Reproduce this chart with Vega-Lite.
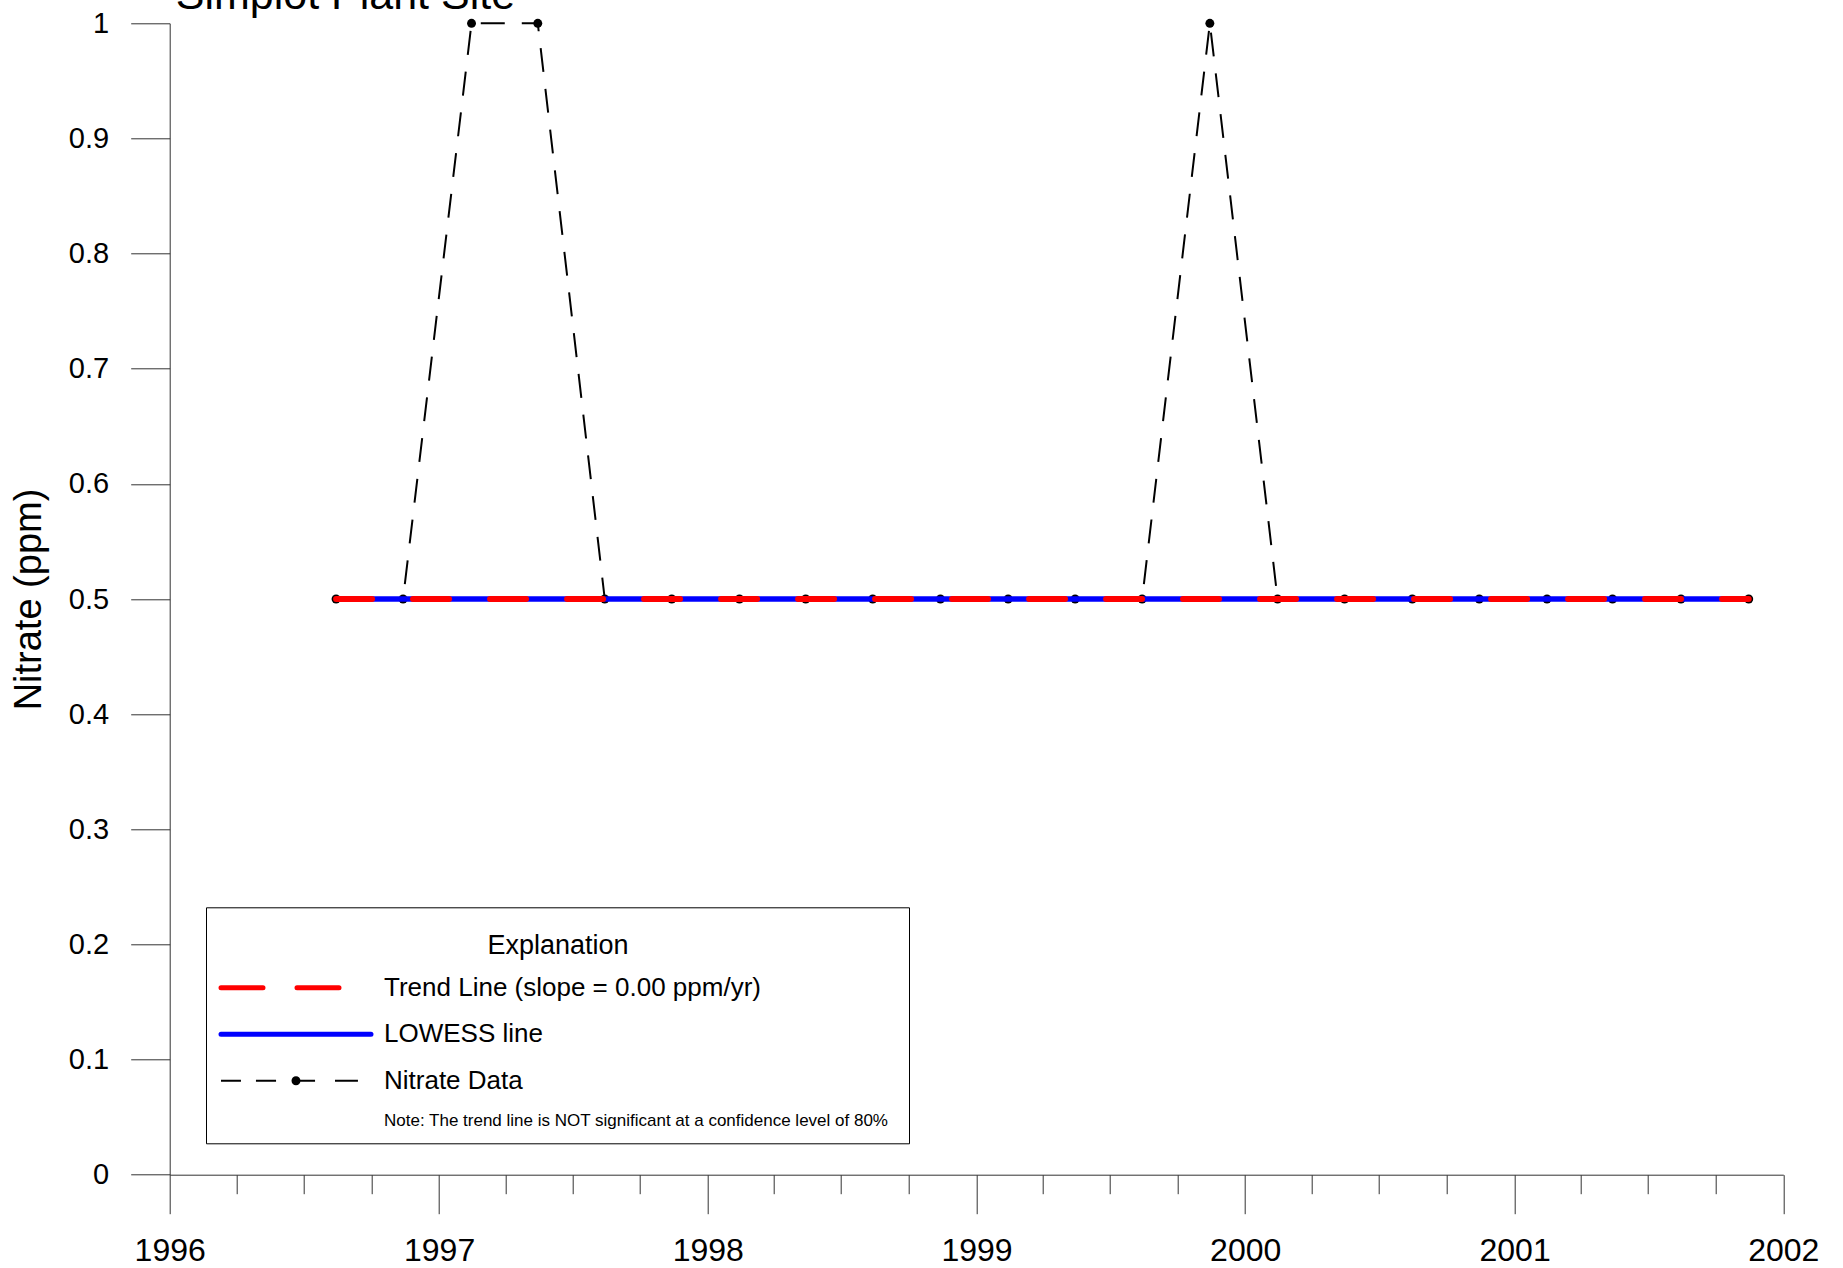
{
  "$schema": "https://vega.github.io/schema/vega-lite/v6.json",
  "autosize": {"type": "none"},
  "padding": {"left": 169.7, "top": 23.3, "right": 59.7, "bottom": 93.3},
  "width": 1613.6,
  "height": 1151.4,
  "background": "white",
  "title": {
    "text": "Simplot Plant Site",
    "anchor": "start",
    "frame": "group",
    "font": "Liberation Sans",
    "fontSize": 43,
    "fontWeight": "normal",
    "color": "black",
    "dx": 6,
    "offset": -9
  },
  "config": {
    "view": {"stroke": null},
    "axis": {"grid": false, "domainColor": "#333333", "tickColor": "#333333", "domainWidth": 1, "tickWidth": 1, "labelColor": "black", "titleColor": "black"}
  },
  "data": {
    "values": [
      {"date": "1996-08-14", "nitrate": 0.5, "trend": 0.5, "lowess": 0.5},
      {"date": "1996-11-13", "nitrate": 0.5, "trend": 0.5, "lowess": 0.5},
      {"date": "1997-02-14", "nitrate": 1.0, "trend": 0.5, "lowess": 0.5},
      {"date": "1997-05-15", "nitrate": 1.0, "trend": 0.5, "lowess": 0.5},
      {"date": "1997-08-14", "nitrate": 0.5, "trend": 0.5, "lowess": 0.5},
      {"date": "1997-11-13", "nitrate": 0.5, "trend": 0.5, "lowess": 0.5},
      {"date": "1998-02-13", "nitrate": 0.5, "trend": 0.5, "lowess": 0.5},
      {"date": "1998-05-14", "nitrate": 0.5, "trend": 0.5, "lowess": 0.5},
      {"date": "1998-08-13", "nitrate": 0.5, "trend": 0.5, "lowess": 0.5},
      {"date": "1998-11-13", "nitrate": 0.5, "trend": 0.5, "lowess": 0.5},
      {"date": "1999-02-13", "nitrate": 0.5, "trend": 0.5, "lowess": 0.5},
      {"date": "1999-05-15", "nitrate": 0.5, "trend": 0.5, "lowess": 0.5},
      {"date": "1999-08-14", "nitrate": 0.5, "trend": 0.5, "lowess": 0.5},
      {"date": "1999-11-14", "nitrate": 1.0, "trend": 0.5, "lowess": 0.5},
      {"date": "2000-02-14", "nitrate": 0.5, "trend": 0.5, "lowess": 0.5},
      {"date": "2000-05-15", "nitrate": 0.5, "trend": 0.5, "lowess": 0.5},
      {"date": "2000-08-15", "nitrate": 0.5, "trend": 0.5, "lowess": 0.5},
      {"date": "2000-11-14", "nitrate": 0.5, "trend": 0.5, "lowess": 0.5},
      {"date": "2001-02-14", "nitrate": 0.5, "trend": 0.5, "lowess": 0.5},
      {"date": "2001-05-14", "nitrate": 0.5, "trend": 0.5, "lowess": 0.5},
      {"date": "2001-08-15", "nitrate": 0.5, "trend": 0.5, "lowess": 0.5},
      {"date": "2001-11-15", "nitrate": 0.5, "trend": 0.5, "lowess": 0.5}
    ]
  },
  "encoding": {
    "x": {
      "field": "date",
      "type": "temporal",
      "scale": {"type": "utc", "domain": [{"year": 1996, "utc": true}, {"year": 2002, "utc": true}]},
      "axis": {
        "title": null,
        "tickCount": {"interval": "month", "step": 3},
        "tickSize": {"condition": {"test": "utcmonth(datum.value) === 0", "value": 39}, "value": 19},
        "labelExpr": "utcmonth(datum.value) === 0 ? utcFormat(datum.value, '%Y') : ''",
        "labelFont": "Liberation Sans",
        "labelFontSize": 32,
        "labelPadding": 22,
        "labelOverlap": false,
        "labelFlush": false
      }
    },
    "y": {
      "type": "quantitative",
      "scale": {"domain": [0, 1], "nice": false, "zero": false},
      "axis": {
        "title": "Nitrate (ppm)",
        "titleFont": "Liberation Sans",
        "titleFontSize": 38,
        "titleFontWeight": "normal",
        "titlePadding": 20,
        "values": [0, 0.1, 0.2, 0.3, 0.4, 0.5, 0.6, 0.7, 0.8, 0.9, 1],
        "format": "~g",
        "tickSize": 39,
        "labelPadding": 22,
        "labelFont": "Liberation Sans",
        "labelFontSize": 29,
        "labelFlush": false,
        "labelOverlap": false
      }
    }
  },
  "layer": [
    {
      "mark": {"type": "line", "strokeWidth": 2, "strokeDash": [24, 17], "color": "black"},
      "encoding": {
        "y": {"field": "nitrate", "type": "quantitative"}
      }
    },
    {
      "mark": {"type": "point", "filled": true, "color": "black", "size": 80, "opacity": 1},
      "encoding": {
        "y": {"field": "nitrate", "type": "quantitative"}
      }
    },
    {
      "mark": {"type": "line", "strokeWidth": 5.5},
      "encoding": {
        "y": {"field": "lowess", "type": "quantitative"},
        "color": {
          "datum": "LOWESS line",
          "type": "nominal",
          "scale": {
            "domain": ["Trend Line (slope = 0.00 ppm/yr)", "LOWESS line", "Nitrate Data"],
            "range": ["#ff0000", "#0000ff", "transparent"]
          },
          "legend": {
            "title": "Explanation",
            "orient": "none",
            "legendX": 36.3,
            "legendY": 884,
            "direction": "vertical",
            "fillColor": "white",
            "strokeColor": "black",
            "padding": 15,
            "titleFont": "Liberation Sans",
            "titleFontSize": 27,
            "titleFontWeight": "normal",
            "titleColor": "black",
            "titleAnchor": "middle",
            "titleAlign": "center",
            "titleBaseline": "line-top",
            "titleLineHeight": 49,
            "titlePadding": 21,
            "labelFont": "Liberation Sans",
            "labelFontSize": 26,
            "labelColor": "black",
            "labelLimit": 0,
            "labelOffset": 70.5,
            "symbolSize": 900,
            "symbolOffset": 57.5,
            "symbolStrokeWidth": 5,
            "symbolFillColor": "black",
            "rowPadding": 15.5,
            "encode": {
              "symbols": {
                "update": {
                  "shape": {"signal": "datum.value === 'LOWESS line' ? 'M-5,0H5' : datum.value === 'Nitrate Data' ? 'M-5,-0.07H-3.67V0.07H-5Z M-2.67,-0.07H-1.33V0.07H-2.67Z M0,-0.07H1.27V0.07H0Z M2.6,-0.07H4.13V0.07H2.6Z M0.3,0A0.3,0.3,0,1,1,-0.3,0A0.3,0.3,0,1,1,0.3,0Z M39.2,0V2.45' : 'M-5,0H3'"},
                  "strokeDash": [{"test": "datum.value === 'LOWESS line'", "value": [1, 0]}, {"value": [42, 34]}],
                  "fill": {"signal": "datum.value === 'Nitrate Data' ? 'black' : 'transparent'"},
                  "strokeCap": {"value": "round"},
                  "opacity": {"value": 1}
                }
              }
            }
          }
        }
      }
    },
    {
      "mark": {"type": "line", "strokeWidth": 6, "strokeDash": [36, 41], "strokeCap": "round"},
      "encoding": {
        "y": {"field": "trend", "type": "quantitative"},
        "color": {"datum": "Trend Line (slope = 0.00 ppm/yr)", "type": "nominal"}
      }
    },
    {
      "mark": {"type": "point", "filled": true, "color": "black", "size": 80, "opacity": 0},
      "encoding": {
        "y": {"field": "nitrate", "type": "quantitative"},
        "shape": {
          "datum": "Note: The trend line is NOT significant at a confidence level of 80%",
          "type": "nominal",
          "scale": {"range": ["circle"]},
          "legend": {
            "title": null,
            "orient": "none",
            "legendX": 197.3,
            "legendY": 1089.2,
            "padding": 0,
            "labelFont": "Liberation Sans",
            "labelFontSize": 17,
            "labelColor": "black",
            "labelLimit": 0,
            "labelOffset": 0,
            "symbolSize": 0,
            "symbolOpacity": 0
          }
        }
      }
    }
  ]
}
